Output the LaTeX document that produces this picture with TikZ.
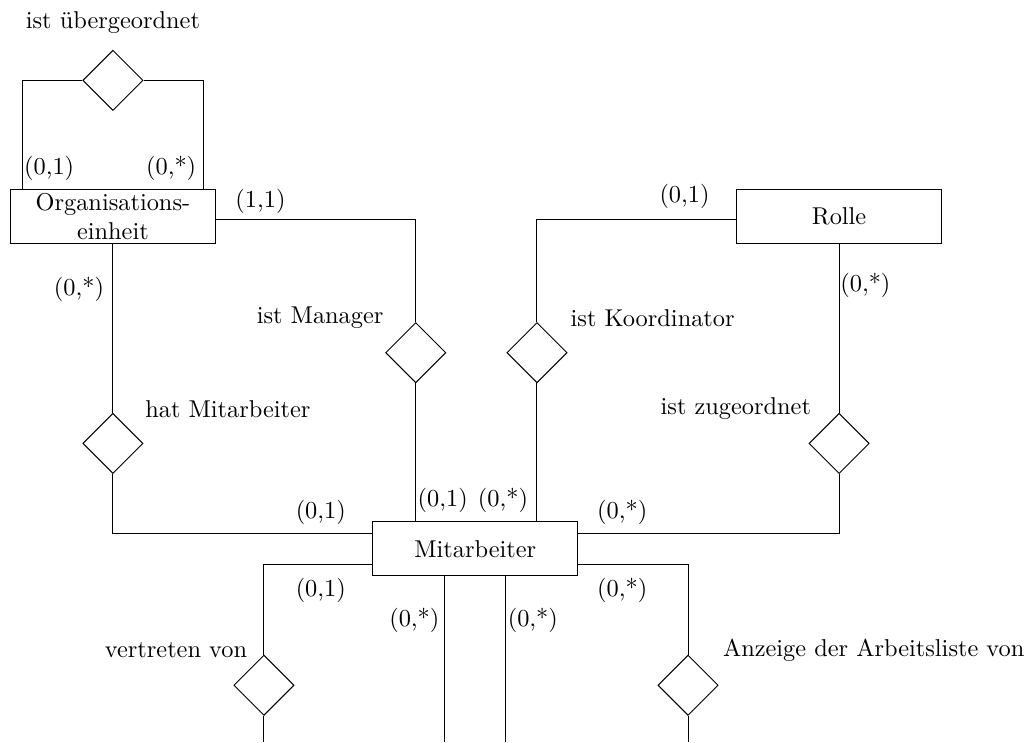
\documentclass[tikz,border=0pt]{standalone}
\usepackage{amsmath}
\usepackage{tikz}
\usetikzlibrary{shapes.geometric,positioning}

\begin{document}
\begin{tikzpicture}[node distance=2cm,on grid,
   entity/.style={draw,rectangle,minimum width=2.96cm,minimum height=0.78cm,inner sep=1pt,align=center},
   rel/.style={draw,diamond,minimum width=0.87cm,minimum height=0.87cm,inner sep=0pt},
   vh/.style={to path={|- (\tikztotarget)}},
   hv/.style={to path={-| (\tikztotarget)}}]
   \useasboundingbox (-6.86,-2.79) rectangle (8.02,7.92);
   \coordinate (bot) at (0,-2.79);
   \node [entity] (ma) {Mitarbeiter};
   \node [entity, above left=4.8cm and 5.23cm of ma] (org) {Organisations-\\einheit};
   \node [entity, above right=4.8cm and 5.25cm of ma] (rolle) {Rolle};
   \node [rel, above=1.96cm of org] (r_ueber) {};
   \node [rel, below=3.28cm of org] (r_hat) {};
   \node [rel, below=3.28cm of rolle] (r_zu) {};
   \node [rel, above left=2.83cm and 0.86cm of ma] (r_man) {};
   \node [rel, above right=2.83cm and 0.89cm of ma] (r_ko) {};
   \node [rel, below left=1.97cm and 3.05cm of ma] (r_ver) {};
   \node [rel, below right=1.97cm and 3.07cm of ma] (r_anz) {};
   \node [above=0.84cm of r_ueber] (t_ueber) {ist übergeordnet};
   \node [above right=0.49cm and 1.66cm of r_hat] (t_hat) {hat Mitarbeiter};
   \node [above left=0.5cm and 1.38cm of r_man] (t_man) {ist Manager};
   \node [above right=0.5cm and 1.67cm of r_ko] (t_ko) {ist Koordinator};
   \node [above left=0.5cm and 1.49cm of r_zu] (t_zu) {ist zugeordnet};
   \node [above left=0.5cm and 1.27cm of r_ver] (t_ver) {vertreten von};
   \node [above right=0.5cm and 2.68cm of r_anz] (t_anz) {Anzeige der Arbeitsliste von};
   \node [above left=0.69cm and 0.92cm of org] (c_ueb1) {(0,1)};
   \node [above right=0.69cm and 0.84cm of org] (c_ueb2) {(0,*)};
   \node [above right=0.22cm and 2.13cm of org] (c_man1) {(1,1)};
   \node [below left=1.05cm and 0.49cm of org] (c_hat1) {(0,*)};
   \node [above left=0.29cm and 2.23cm of rolle] (c_ko1) {(0,1)};
   \node [below right=1.0cm and 0.38cm of rolle] (c_zu1) {(0,*)};
   \node [above left=0.53cm and 2.23cm of ma] (c_hat2) {(0,1)};
   \node [above left=0.7cm and 0.47cm of ma] (c_man2) {(0,1)};
   \node [above right=0.7cm and 0.4cm of ma] (c_ko2) {(0,*)};
   \node [above right=0.53cm and 2.12cm of ma] (c_zu2) {(0,*)};
   \node [below left=0.6cm and 2.23cm of ma] (c_ver) {(0,1)};
   \node [below left=1.03cm and 0.88cm of ma] (c_l) {(0,*)};
   \node [below right=1.03cm and 0.83cm of ma] (c_r) {(0,*)};
   \node [below right=0.6cm and 2.12cm of ma] (c_anz) {(0,*)};
   \coordinate (ma_l) at ([xshift=-0.44cm]ma.south);
   \coordinate (ma_r) at ([xshift=0.44cm]ma.south);
    \path
    ([xshift=-1.31cm]org.north) edge [vh] (r_ueber.west)
    ([xshift=1.31cm]org.north) edge [vh] (r_ueber.east)
    (org.south) edge (r_hat.north)
    (r_hat.south) edge [vh] ([yshift=0.22cm]ma.west)
    ([yshift=-0.05cm]org.east) edge [hv] (r_man.north)
    (r_man.south) edge (r_man.south |- ma.north)
    ([yshift=-0.05cm]rolle.west) edge [hv] (r_ko.north)
    (r_ko.south) edge (r_ko.south |- ma.north)
    (rolle.south) edge (r_zu.north)
    (r_zu.south) edge [vh] ([yshift=0.22cm]ma.east)
    ([yshift=-0.22cm]ma.west) edge [hv] (r_ver.north)
    (r_ver.south) edge (r_ver |- bot)
    ([yshift=-0.22cm]ma.east) edge [hv] (r_anz.north)
    (r_anz.south) edge (r_anz |- bot)
    (ma_l) edge (ma_l |- bot)
    (ma_r) edge (ma_r |- bot);
\end{tikzpicture}
\end{document}
